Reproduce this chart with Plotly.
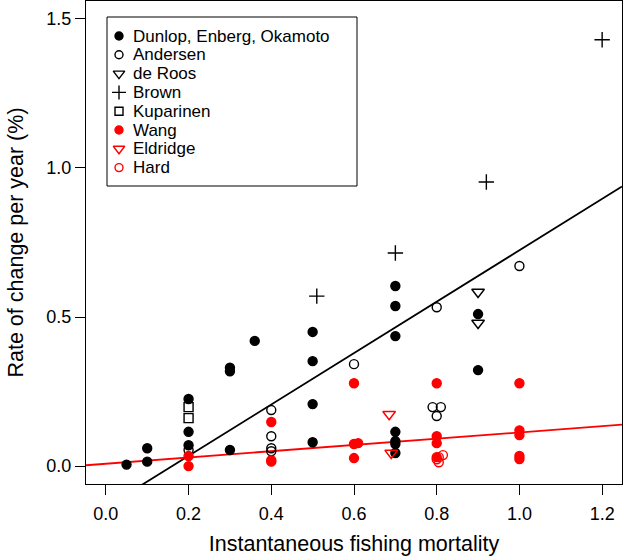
import plotly.graph_objects as go

# ---- data ----
dunlop_x = [0.05, 0.10, 0.10, 0.20, 0.20, 0.20, 0.30, 0.30, 0.30, 0.36, 0.50, 0.50, 0.50, 0.50,
            0.70, 0.70, 0.70, 0.70, 0.70, 0.70, 0.70, 0.90, 0.90]
dunlop_y = [0.005, 0.015, 0.060, 0.225, 0.115, 0.070, 0.330, 0.318, 0.054, 0.420, 0.450, 0.352, 0.208, 0.080,
            0.604, 0.537, 0.436, 0.115, 0.084, 0.074, 0.044, 0.510, 0.322]

andersen_x = [0.20, 0.40, 0.40, 0.40, 0.40, 0.60, 0.79, 0.81, 0.80, 0.80, 1.00]
andersen_y = [0.054, 0.188, 0.100, 0.060, 0.050, 0.342, 0.198, 0.198, 0.168, 0.533, 0.671]

deroos_x = [0.90, 0.90]
deroos_y = [0.584, 0.480]

brown_x = [0.51, 0.70, 0.92, 1.20]
brown_y = [0.570, 0.715, 0.953, 1.430]

kuparinen_x = [0.20, 0.20]
kuparinen_y = [0.198, 0.161]

wang_x = [0.20, 0.20, 0.40, 0.40, 0.40, 0.60, 0.60, 0.61, 0.60, 0.80, 0.80, 0.80, 0.80,
          1.00, 1.00, 1.00, 1.00, 1.00]
wang_y = [0.034, 0.000, 0.148, 0.020, 0.015, 0.278, 0.074, 0.077, 0.027, 0.278, 0.100, 0.077, 0.030,
          0.278, 0.120, 0.104, 0.034, 0.024]

eldridge_x = [0.685, 0.69]
eldridge_y = [0.174, 0.044]

hard_x = [0.80, 0.805, 0.815, 0.805]
hard_y = [0.023, 0.030, 0.037, 0.013]

# regression lines: (intercept, slope)
black_fit = (-0.138, 0.862)
red_fit = (0.008, 0.105)

x_range = [-0.048, 1.248]
y_range = [-0.06, 1.56]
x_ticks = [0.0, 0.2, 0.4, 0.6, 0.8, 1.0, 1.2]
y_ticks = [0.0, 0.5, 1.0, 1.5]

FONT = "Liberation Sans, Arial, Helvetica, sans-serif"
RED = "#FF0000"

W, H = 624, 556
ML, MR, MT, MB = 86, 2, 1, 72
PW, PH = W - ML - MR, H - MT - MB

fig = go.Figure()

for (a, b), col in [(black_fit, "black"), (red_fit, RED)]:
    fig.add_trace(go.Scatter(
        x=x_range, y=[a + b * x_range[0], a + b * x_range[1]],
        mode="lines", line=dict(color=col, width=1.8), showlegend=False, hoverinfo="skip"))

series = [
    ("Dunlop, Enberg, Okamoto", dunlop_x, dunlop_y, "circle", "black", 9),
    ("Andersen", andersen_x, andersen_y, "circle-open", "black", 9),
    ("de Roos", deroos_x, deroos_y, "triangle-down-open", "black", 11),
    ("Brown", brown_x, brown_y, "cross-thin-open", "black", 11),
    ("Kuparinen", kuparinen_x, kuparinen_y, "square-open", "black", 9),
    ("Wang", wang_x, wang_y, "circle", RED, 9),
    ("Eldridge", eldridge_x, eldridge_y, "triangle-down-open", RED, 11),
    ("Hard", hard_x, hard_y, "circle-open", RED, 9),
]
for name, xs, ys, sym, col, sz in series:
    fig.add_trace(go.Scatter(
        x=xs, y=ys, mode="markers", name=name, showlegend=False,
        marker=dict(symbol=sym, color=col, size=sz, line=dict(color=col, width=1.4)),
        cliponaxis=False))

# ---- legend drawn in a pixel-based overlay axis (page pixels relative to plot corner) ----
LEG_LEFT, LEG_RIGHT, LEG_TOP, LEG_BOTTOM = 107, 357, 17, 186   # page pixels
ROW0, ROW_STEP = 36, 18.8
SYM_X, TXT_X = 119, 131

fig.add_shape(type="rect", xref="x2", yref="y2",
              x0=LEG_LEFT - ML, x1=LEG_RIGHT - ML, y0=LEG_TOP - MT, y1=LEG_BOTTOM - MT,
              line=dict(color="black", width=1), fillcolor="white", layer="below")
for i, (name, xs, ys, sym, col, sz) in enumerate(series):
    yy = ROW0 + i * ROW_STEP - MT
    fig.add_trace(go.Scatter(
        x=[SYM_X - ML], y=[yy], xaxis="x2", yaxis="y2", mode="markers", showlegend=False,
        hoverinfo="skip",
        marker=dict(symbol=sym, color=col, size=sz - 1, line=dict(color=col, width=1.4))))
    fig.add_annotation(x=TXT_X - ML, y=yy, xref="x2", yref="y2", text=name, showarrow=False,
                       xanchor="left", yanchor="middle",
                       font=dict(family=FONT, size=17, color="black"))

axis_common = dict(
    showline=True, linecolor="black", linewidth=1, mirror=True,
    ticks="outside", ticklen=10, tickwidth=1, tickcolor="black",
    showgrid=False, zeroline=False,
    tickfont=dict(family=FONT, size=18, color="black"),
)

fig.update_layout(
    width=W, height=H,
    margin=dict(l=ML, r=MR, t=MT, b=MB),
    paper_bgcolor="white", plot_bgcolor="white",
    font=dict(family=FONT, color="black"),
    xaxis=dict(range=x_range, tickvals=x_ticks, ticktext=[f"{v:.1f}" for v in x_ticks],
               title=dict(text="Instantaneous fishing mortality", font=dict(size=21.5), standoff=14),
               ticklabelstandoff=3, **axis_common),
    yaxis=dict(range=y_range, tickvals=y_ticks, ticktext=[f"{v:.1f}" for v in y_ticks],
               title=dict(text="Rate of change per year (%)", font=dict(size=21.5), standoff=16),
               **axis_common),
    xaxis2=dict(range=[0, PW], overlaying="x", visible=False, fixedrange=True),
    yaxis2=dict(range=[PH, 0], overlaying="y", visible=False, fixedrange=True),
    showlegend=False,
)

fig.write_html("out.html", config={"displayModeBar": False},
               post_script="document.body.style.margin='0';")
